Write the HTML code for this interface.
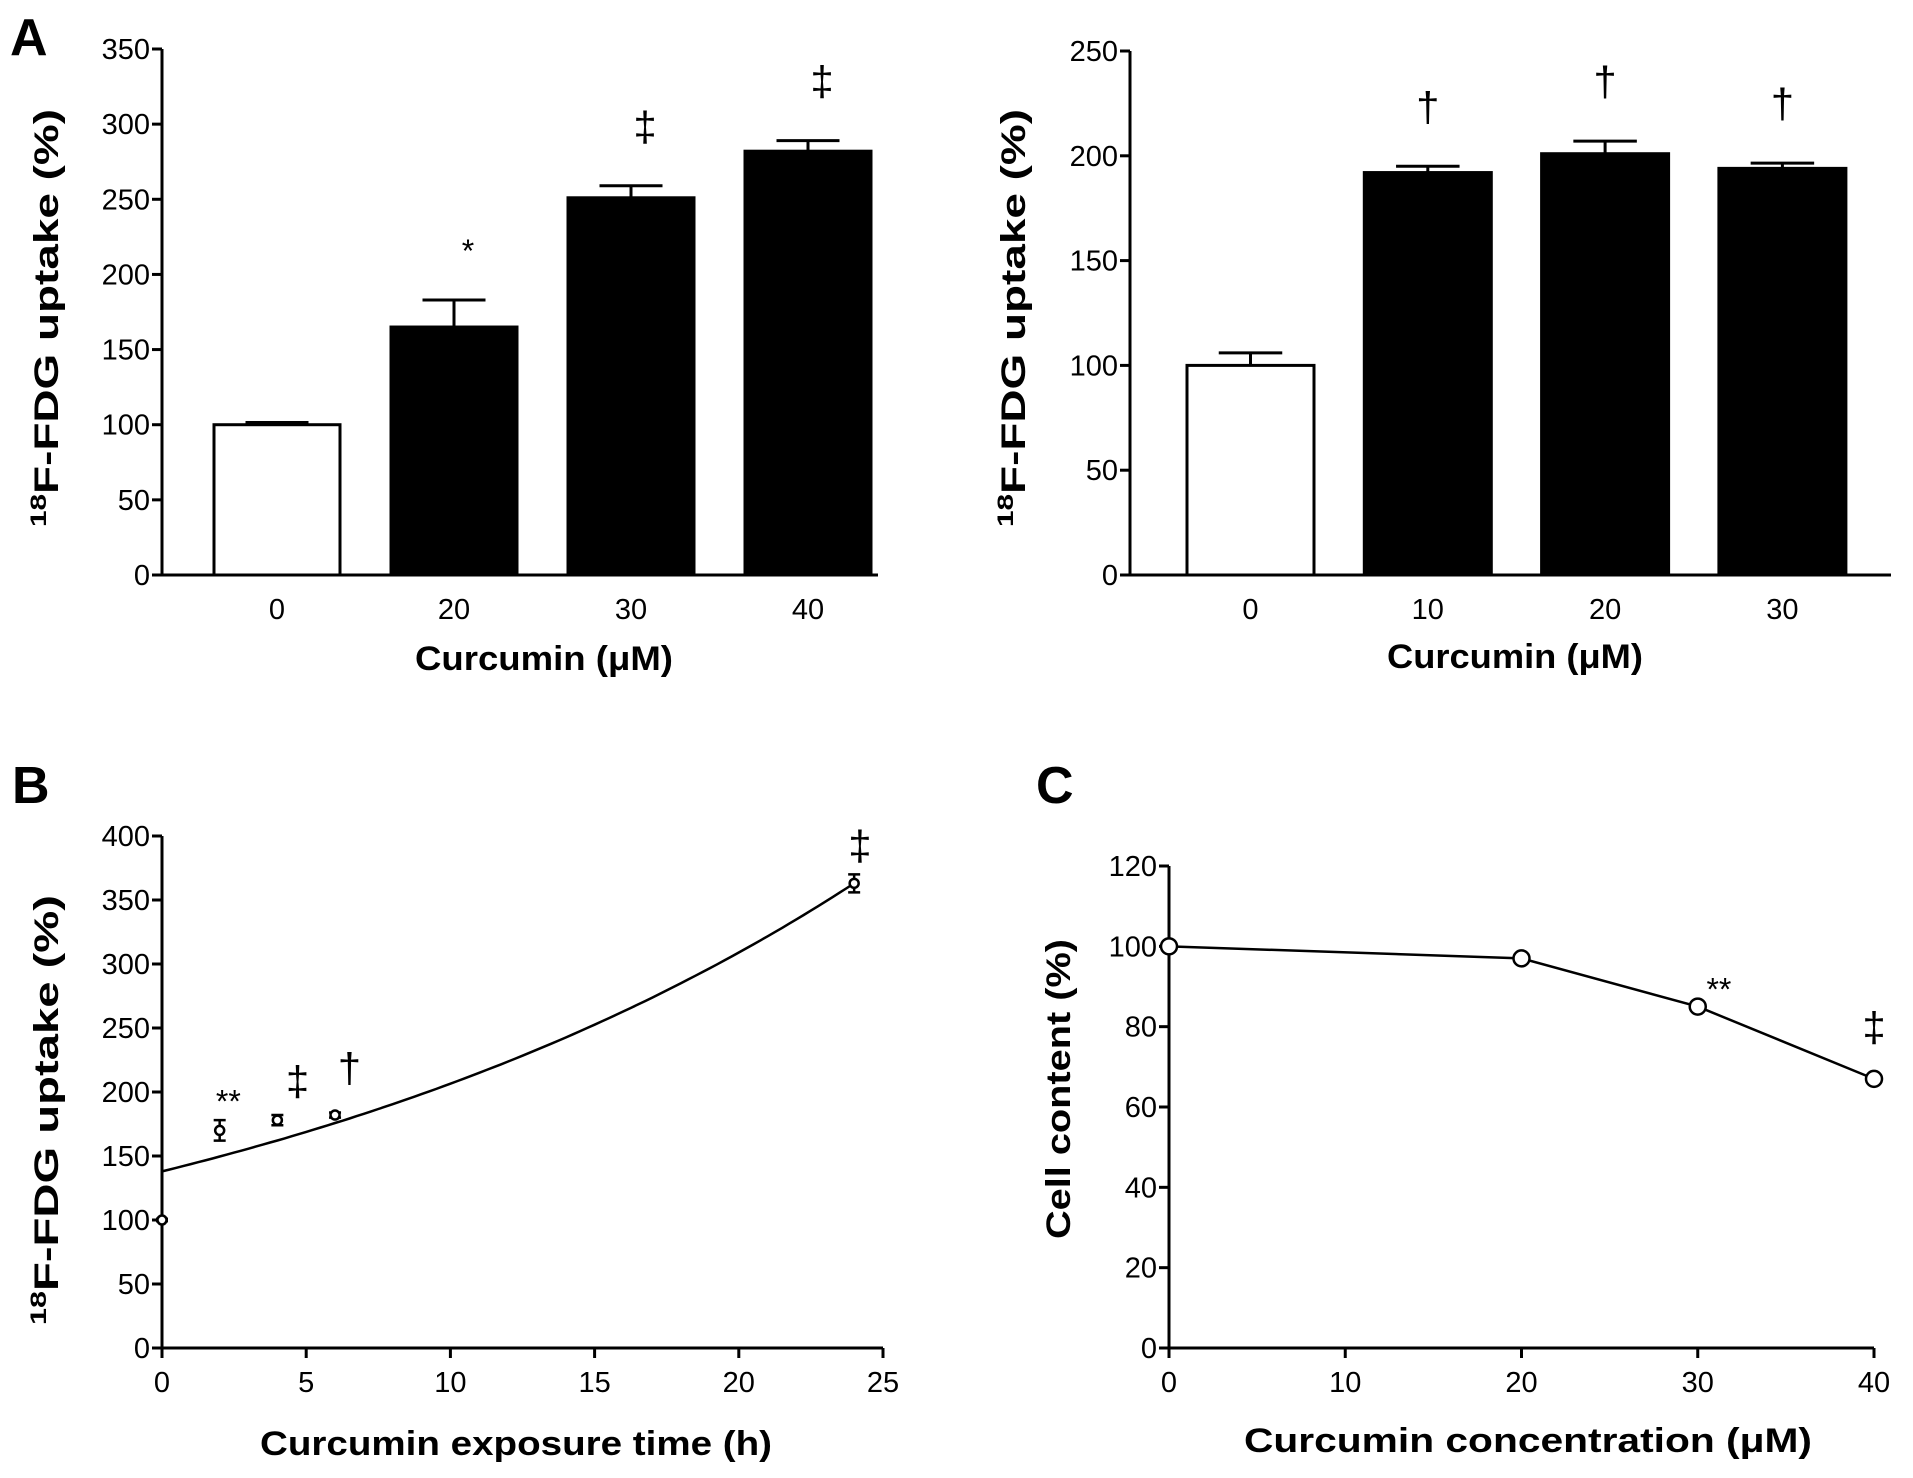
<!DOCTYPE html>
<html><head><meta charset="utf-8"><style>
html,body{margin:0;padding:0;background:#fff}
svg{display:block}
text{font-family:"Liberation Sans",Arial,sans-serif;fill:#000}
.tick{font-size:29px}
.title{font-size:34px;font-weight:bold}
.panel{font-size:52px;font-weight:bold}
.sig{font-size:42px}
.ast{font-size:32px}
</style></head><body>
<svg id="fig" width="1913" height="1478" viewBox="0 0 1913 1478" xmlns="http://www.w3.org/2000/svg">
<text class="panel" x="10" y="55">A</text>
<text class="panel" x="12" y="803">B</text>
<text class="panel" x="1036" y="803">C</text>
</svg>
<script>
// Panel A left
const a1Cats=["0","20","30","40"];
const a1Vals=[100,165,251,282];
const a1Err=[1.5,18,8,7];
const a1Sig=["","*","‡","‡"];
const a1Ticks=[0,50,100,150,200,250,300,350];
// Panel A right
const a2Cats=["0","10","20","30"];
const a2Vals=[100,192,201,194];
const a2Err=[6,3,6,2.5];
const a2Sig=["","†","†","†"];
const a2Ticks=[0,50,100,150,200,250];
// Panel B
const bX=[0,2,4,6,24];
const bY=[100,170,178,182,363];
const bErr=[1,8,4,2,7];
const bSigX=[2.3,4.7,6.5,24.2];
const bSigY=[201,209,219,393];
const bSigTxt=["**","‡","†","‡"];
const bFitA=138, bFitK=0.0403;
const bXTicks=[0,5,10,15,20,25];
const bYTicks=[0,50,100,150,200,250,300,350,400];
// Panel C
const cX=[0,20,30,40];
const cY=[100,97,85,67];
const cSigX=[31.2,40];
const cSigY=[92,80];
const cSigTxt=["**","‡"];
const cXTicks=[0,10,20,30,40];
const cYTicks=[0,20,40,60,80,100,120];

const NS="http://www.w3.org/2000/svg";
const svg=document.getElementById('fig');
function mk(tag,attrs,parent){const e=document.createElementNS(NS,tag);for(const k in attrs)e.setAttribute(k,attrs[k]);(parent||svg).appendChild(e);return e;}
function txt(s,attrs,parent){const e=mk('text',attrs,parent);e.textContent=s;return e;}
function sigText(s,x,yc,g){
  const isAst=s.indexOf('*')>=0;
  const t=txt(s,{class:isAst?'ast':'sig',x:x,y:isAst?yc+22:yc+15,'text-anchor':'middle'},g);
  
  
}

function yAxis(g,x0,yScale,ticks,topY,bottomY){
  const ax=mk('line',{x1:x0,y1:topY,x2:x0,y2:bottomY,stroke:'#000','stroke-width':3},g);
  
  
  ticks.forEach(t=>{
    const y=yScale(t);
    const l=mk('line',{x1:x0-10,y1:y,x2:x0,y2:y,stroke:'#000','stroke-width':3},g);
    
    
    const tl=txt(String(t),{class:'tick',x:x0-12,y:y+10,'text-anchor':'end'},g);
    
    
  });
}
function yTitle(g,parts,cx,cy,len){
  const t=mk('text',{class:'title',transform:`translate(${cx},${cy}) rotate(-90)`,'text-anchor':'middle',textLength:len,lengthAdjust:'spacingAndGlyphs'},g);
  
  
  parts.forEach(p=>{const s=mk('tspan',p.sup?{'font-size':'22','dy':'-12'}:{'dy':p.dy||0},t);s.textContent=p.s;});
}
function xTitle(g,s,x1,x2,y){
  const t=txt(s,{class:'title',x:x1,y:y,textLength:x2-x1,lengthAdjust:'spacingAndGlyphs'},g);
  
  
}

function barChart(name,cats,vals,err,sig,ticks,opt){
  const g=mk('g',{});
  
  
  const y=v=>opt.y0-(v/opt.ymax)*(opt.y0-opt.ytop);
  yAxis(g,opt.x0,y,ticks,opt.ytop,opt.y0);
  const xa=mk('line',{x1:opt.x0,y1:opt.y0,x2:opt.xend,y2:opt.y0,stroke:'#000','stroke-width':3},g);
  
  
  cats.forEach((c,i)=>{
    const xl=opt.first+i*opt.step, xc=xl+opt.w/2;
    const yt=y(vals[i]), ye=y(vals[i]+err[i]);
    const el=mk('line',{x1:xc,y1:yt,x2:xc,y2:ye,stroke:'#000','stroke-width':3},g);
    
    
    const ec=mk('line',{x1:xc-opt.w/4,y1:ye,x2:xc+opt.w/4,y2:ye,stroke:'#000','stroke-width':3},g);
    
    
    const r=mk('rect',{x:xl,y:yt,width:opt.w,height:opt.y0-yt,fill:i===0?'#fff':'#000',stroke:'#000','stroke-width':3},g);
    
    
    const tl=txt(c,{class:'tick',x:xc,y:opt.y0+44,'text-anchor':'middle'},g);
    
    
    if(sig[i]) sigText(sig[i],xc+opt.sigdx,ye-opt.siggap,g);
  });
  return g;
}
const gA1=barChart('chart-a-left',a1Cats,a1Vals,a1Err,a1Sig,a1Ticks,{x0:162,y0:575,ytop:49,ymax:350,xend:878,first:214,step:177,w:126,sigdx:14,siggap:60});
yTitle(gA1,[{sup:1,s:'18'},{s:'F-FDG uptake (%)',dy:12}],58,318,418);
xTitle(gA1,'Curcumin (μM)',415,673,670);
const gA2=barChart('chart-a-right',a2Cats,a2Vals,a2Err,a2Sig,a2Ticks,{x0:1130,y0:575,ytop:51,ymax:250,xend:1891,first:1187,step:177.3,w:127,sigdx:0,siggap:60});
yTitle(gA2,[{sup:1,s:'18'},{s:'F-FDG uptake (%)',dy:12}],1025,318,418);
xTitle(gA2,'Curcumin (μM)',1387,1643,668);

function lineChart(name,xs,ys,xTicks,yTicks,opt){
  const g=mk('g',{});
  
  
  const X=v=>opt.x0+(v-xTicks[0])/(xTicks[xTicks.length-1]-xTicks[0])*(opt.x1-opt.x0);
  const Y=v=>opt.y0-(v/yTicks[yTicks.length-1])*(opt.y0-opt.ytop);
  yAxis(g,opt.x0,Y,yTicks,opt.ytop,opt.y0);
  const xa=mk('line',{x1:opt.x0,y1:opt.y0,x2:opt.x1,y2:opt.y0,stroke:'#000','stroke-width':3},g);
  
  
  xTicks.forEach(t=>{
    const x=X(t);
    const l=mk('line',{x1:x,y1:opt.y0,x2:x,y2:opt.y0+10,stroke:'#000','stroke-width':3},g);
    
    
    const tl=txt(String(t),{class:'tick',x:x,y:opt.y0+44,'text-anchor':'middle'},g);
    
    
  });
  return {g,X,Y};
}
// B
const B=lineChart('chart-b',bX,bY,bXTicks,bYTicks,{x0:162,x1:883,y0:1348,ytop:836});
let d='';
for(let i=0;i<=96;i++){const t=i*24/96;d+=(i?'L':'M')+B.X(t).toFixed(1)+','+B.Y(bFitA*Math.exp(bFitK*t)).toFixed(1);}
const fit=mk('path',{d:d,fill:'none',stroke:'#000','stroke-width':2.5},B.g);


bX.forEach((x,i)=>{
  const cx=B.X(x),cy=B.Y(bY[i]);
  const e=mk('path',{d:`M${cx-6},${B.Y(bY[i]+bErr[i])}H${cx+6}M${cx},${B.Y(bY[i]+bErr[i])}V${B.Y(bY[i]-bErr[i])}M${cx-6},${B.Y(bY[i]-bErr[i])}H${cx+6}`,stroke:'#000','stroke-width':2.5,fill:'none'},B.g);
  
  
  const c=mk('circle',{cx:cx,cy:cy,r:4.5,fill:'#fff',stroke:'#000','stroke-width':2.5},B.g);
  
  
});
bSigX.forEach((x,i)=>sigText(bSigTxt[i],B.X(x),B.Y(bSigY[i]),B.g));
yTitle(B.g,[{sup:1,s:'18'},{s:'F-FDG uptake (%)',dy:12}],58,1110,430);
xTitle(B.g,'Curcumin exposure time (h)',260,772,1455);
// C
const C=lineChart('chart-c',cX,cY,cXTicks,cYTicks,{x0:1169,x1:1874,y0:1348,ytop:866});
const pl=mk('polyline',{points:cX.map((x,i)=>C.X(x)+','+C.Y(cY[i])).join(' '),fill:'none',stroke:'#000','stroke-width':2.5},C.g);


cX.forEach((x,i)=>{
  const c=mk('circle',{cx:C.X(x),cy:C.Y(cY[i]),r:8,fill:'#fff',stroke:'#000','stroke-width':2.5},C.g);
  
  
});
cSigX.forEach((x,i)=>sigText(cSigTxt[i],C.X(x),C.Y(cSigY[i]),C.g));
yTitle(C.g,[{s:'Cell content (%)'}],1070,1089,300);
xTitle(C.g,'Curcumin concentration (μM)',1244,1812,1452);
</script>
</body></html>
